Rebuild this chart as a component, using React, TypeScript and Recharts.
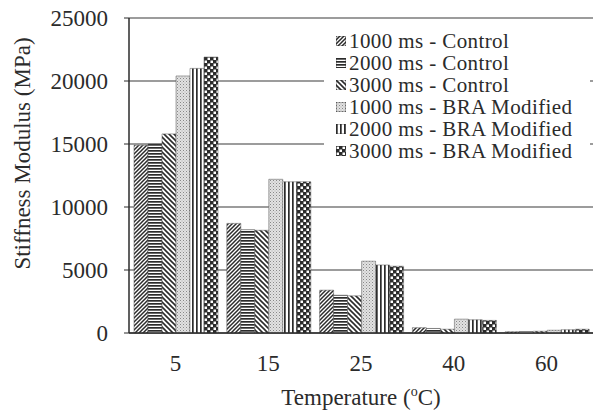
import { Bar, BarChart, CartesianGrid, Legend, XAxis, YAxis, Label } from 'recharts'

const categories = ['5', '15', '25', '40', '60']
const control1000 = [14900, 8700, 3400, 420, 100]
const control2000 = [15000, 8200, 3000, 360, 120]
const control3000 = [15800, 8150, 2950, 300, 140]
const bra1000 = [20400, 12200, 5700, 1100, 220]
const bra2000 = [21000, 12000, 5400, 1050, 260]
const bra3000 = [21900, 12000, 5300, 1000, 300]
const yTicks = [0, 5000, 10000, 15000, 20000, 25000]

const seriesList = [
  { key: 'c1000', name: '1000 ms - Control', values: control1000, fill: 'url(#pat-diag)' },
  { key: 'c2000', name: '2000 ms - Control', values: control2000, fill: 'url(#pat-horiz)' },
  { key: 'c3000', name: '3000 ms - Control', values: control3000, fill: 'url(#pat-back)' },
  { key: 'b1000', name: '1000 ms - BRA Modified', values: bra1000, fill: 'url(#pat-dots)' },
  { key: 'b2000', name: '2000 ms - BRA Modified', values: bra2000, fill: 'url(#pat-vert)' },
  { key: 'b3000', name: '3000 ms - BRA Modified', values: bra3000, fill: 'url(#pat-check)' },
]

const data = categories.map((cat, i) => {
  const row: Record<string, string | number> = { temp: cat }
  seriesList.forEach((s) => {
    row[s.key] = s.values[i]
  })
  return row
})

const ink = '#2b2b2b'
const font = '"Liberation Serif", "DejaVu Serif", serif'

function Patterns() {
  return (
    <svg width={0} height={0} style={{ position: 'absolute' }}>
      <defs>
        <pattern id="pat-diag" width={4} height={4} patternUnits="userSpaceOnUse">
          <rect width={4} height={4} fill="#fff" />
          <path d="M-1,1 l2,-2 M0,4 l4,-4 M3,5 l2,-2" stroke={ink} strokeWidth={1.5} />
        </pattern>
        <pattern id="pat-horiz" width={4} height={3} patternUnits="userSpaceOnUse">
          <rect width={4} height={3} fill="#fff" />
          <rect y={0} width={4} height={1.7} fill={ink} />
        </pattern>
        <pattern id="pat-back" width={5} height={5} patternUnits="userSpaceOnUse">
          <rect width={5} height={5} fill="#fff" />
          <path d="M-1,4 l2,2 M0,0 l5,5 M4,-1 l2,2" stroke={ink} strokeWidth={1.6} />
        </pattern>
        <pattern id="pat-dots" width={3} height={3} patternUnits="userSpaceOnUse">
          <rect width={3} height={3} fill="#e2e2e2" />
          <rect x={0} y={0} width={1} height={1} fill="#888" />
          <rect x={1.5} y={1.5} width={1} height={1} fill="#aaa" />
        </pattern>
        <pattern id="pat-vert" width={4} height={4} patternUnits="userSpaceOnUse">
          <rect width={4} height={4} fill="#fff" />
          <rect x={0} width={1.7} height={4} fill={ink} />
        </pattern>
        <pattern id="pat-check" width={6} height={6} patternUnits="userSpaceOnUse">
          <rect width={6} height={6} fill={ink} />
          <rect x={0.5} y={0.5} width={2.5} height={2.5} fill="#fff" />
          <rect x={3.5} y={3.5} width={2.5} height={2.5} fill="#fff" />
        </pattern>
      </defs>
    </svg>
  )
}

function LegendBox() {
  return (
    <div
      style={{
        background: '#fff',
        fontFamily: font,
        fontSize: 21,
        letterSpacing: 0.4,
        color: ink,
        padding: '6px 0 8px 12px',
        lineHeight: '22px',
        textAlign: 'left',
        whiteSpace: 'nowrap',
      }}
    >
      {seriesList.map((s) => (
        <div key={s.key} style={{ display: 'flex', alignItems: 'center', height: 22 }}>
          <svg width={10} height={10} style={{ marginRight: 3 }}>
            <rect width={10} height={10} fill={s.fill} stroke={ink} strokeWidth={0.6} />
          </svg>
          <span>{s.name}</span>
        </div>
      ))}
    </div>
  )
}

function TempTick(props: any) {
  const { x, y, payload } = props
  return (
    <text x={x} y={y + 30} textAnchor="middle" fontFamily={font} fontSize={23} fill={ink}>
      {payload.value}
    </text>
  )
}

function YTitle(props: any) {
  const vb = props.viewBox
  const cy = vb.y + vb.height / 2 - 22
  return (
    <text
      x={22}
      y={cy}
      transform={`rotate(-90, 22, ${cy})`}
      textAnchor="middle"
      dominantBaseline="central"
      fontFamily={font}
      fontSize={23}
      fill={ink}
    >
      Stiffness Modulus (MPa)
    </text>
  )
}

function XTitle(props: any) {
  const vb = props.viewBox
  const cx = vb.x + vb.width / 2
  return (
    <text x={cx} y={405} textAnchor="middle" fontFamily={font} fontSize={23} fill={ink}>
      Temperature (<tspan fontSize={14} dy={-9}>o</tspan>
      <tspan dy={9}>C)</tspan>
    </text>
  )
}

export default function App() {
  return (
    <div style={{ position: 'absolute', left: 0, top: 0, width: 593, height: 417, background: '#fff' }}>
      <style>{'body{margin:0}'}</style>
      <Patterns />
      <BarChart
        width={593}
        height={417}
        data={data}
        margin={{ top: 18, right: 0, left: 0, bottom: 0 }}
        barGap={0}
        barCategoryGap={5}
      >
        <CartesianGrid vertical={false} stroke="#3a3a3a" strokeWidth={1.2} />
        <XAxis
          dataKey="temp"
          tick={<TempTick />}
          tickLine={false}
          axisLine={{ stroke: ink, strokeWidth: 1.5 }}
          height={84}
        >
          <Label content={<XTitle />} />
        </XAxis>
        <YAxis
          width={129}
          domain={[0, 25000]}
          ticks={yTicks}
          interval={0}
          tick={{ fontFamily: font, fontSize: 23, fill: ink }}
          tickSize={5}
          tickMargin={16}
          axisLine={{ stroke: ink, strokeWidth: 1.5 }}
          tickLine={{ stroke: ink }}
        >
          <Label content={<YTitle />} />
        </YAxis>
        <Legend
          layout="horizontal"
          verticalAlign="middle"
          align="center"
          content={<LegendBox />}
          wrapperStyle={{ top: 24, left: 324, width: 266 }}
        />
        {seriesList.map((s) => (
          <Bar
            key={s.key}
            dataKey={s.key}
            name={s.name}
            fill={s.fill}
            stroke="#555"
            strokeWidth={0.5}
            isAnimationActive={false}
          />
        ))}
      </BarChart>
    </div>
  )
}
